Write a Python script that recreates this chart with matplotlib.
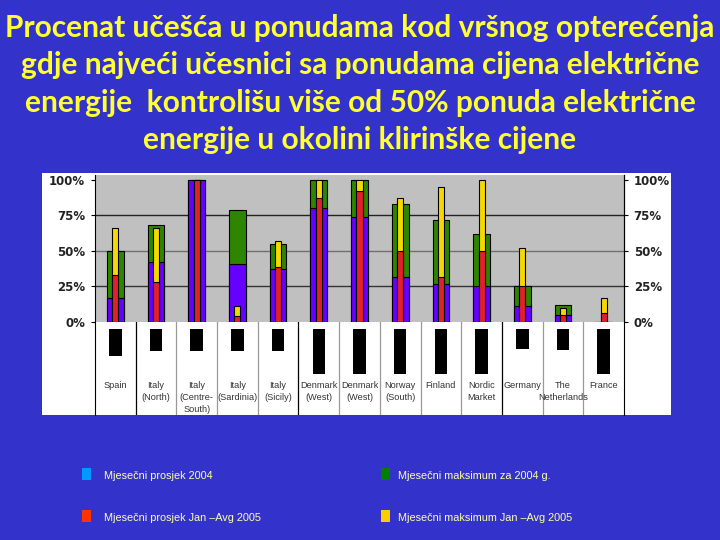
import numpy as np
import matplotlib
matplotlib.use('Agg')
import matplotlib.pyplot as plt
from matplotlib.patches import Rectangle

# Podaci (očitani sa slike), u %
categories = ['Spain', 'Italy\n(North)', 'Italy\n(Centre-\nSouth)', 'Italy\n(Sardinia)',
              'Italy\n(Sicily)', 'Denmark\n(West)', 'Denmark\n(West)', 'Norway\n(South)',
              'Finland', 'Nordic\nMarket', 'Germany', 'The\nNetherlands', 'France']
avg_2004 = [17, 42, 100, 41, 37, 80, 74, 32, 27, 25, 11, 5, 0]
max_2004 = [50, 68, 100, 79, 55, 100, 100, 83, 72, 62, 25, 12, 0]
avg_2005 = [33, 28, 100, 4, 39, 87, 92, 50, 32, 50, 25, 5, 6]
max_2005 = [66, 66, 100, 11, 57, 100, 100, 87, 95, 100, 52, 10, 17]
# crni stupci ispod grafa (relativna visina)
lower_vals = [0.61, 0.49, 0.49, 0.49, 0.49, 1.0, 1.0, 1.0, 1.0, 1.0, 0.44, 0.46, 1.0]
group_ends = [0, 4, 9]   # tamnije vertikalne linije nakon ovih kategorija

legend_labels = ['Mjesečni prosjek 2004', 'Mjesečni maksimum za 2004 g.',
                 'Mjesečni prosjek Jan –Avg 2005', 'Mjesečni maksimum Jan –Avg 2005']
legend_colors = ['#0099FF', '#008000', '#FF3300', '#FFCC00']

title_lines = ['Procenat učešća u ponudama kod vršnog opterećenja',
               'gdje najveći učesnici sa ponudama cijena električne',
               'energije  kontrolišu više od 50% ponuda električne',
               'energije u okolini klirinške cijene']

W, H = 720, 540
BG = '#3333CC'
fig = plt.figure(figsize=(7.2, 5.4), dpi=100, facecolor=BG)

def fx(px):
    return px / W

def fy(py):
    return 1 - py / H

for i, line in enumerate(title_lines):
    fig.text(0.5, fy(28 + 37.3 * i), line, ha='center', va='center', color='#FFFF33',
             fontsize=21.5, fontweight='bold', family='Lato')

# bijela podloga slike grafa
fig.patches.append(Rectangle((fx(42), fy(415)), fx(671) - fx(42), fy(173) - fy(415),
                             transform=fig.transFigure, facecolor='white',
                             edgecolor='none', zorder=-1))

x = np.arange(len(categories))
ax = fig.add_axes([fx(95), fy(322), fx(624) - fx(95), fy(175) - fy(322)])
ax.set_facecolor('#C0C0C0')
ax.set_xlim(-0.5, len(categories) - 0.5)
ax.set_ylim(0, 103.5)

for yv, c in [(25, '#333333'), (50, '#707070'), (75, '#222222')]:
    ax.axhline(yv, color=c, lw=1, zorder=1)

wide, narrow = 0.41, 0.15
ax.bar(x, max_2004, wide, color='#2E8500', edgecolor='black', lw=0.8, zorder=2)
ax.bar(x, avg_2004, wide, color='#6600FF', edgecolor='black', lw=0.8, zorder=3)
ax.bar(x, max_2005, narrow, color='#F5D800', edgecolor='black', lw=0.8, zorder=4)
ax.bar(x, avg_2005, narrow, color='#E0202A', edgecolor='black', lw=0.8, zorder=5)

ax.set_yticks([0, 25, 50, 75, 100])
ax.set_yticklabels(['0%', '25%', '50%', '75%', '100%'])
ax.tick_params(axis='y', labelsize=8.5, colors='black', length=3, pad=4)
for lab in ax.get_yticklabels():
    lab.set_fontweight('bold')
    lab.set_color('#222222')
ax.set_xticks([])
ax2y = ax.secondary_yaxis('right')
ax2y.set_yticks([0, 25, 50, 75, 100])
ax2y.set_yticklabels(['0%', '25%', '50%', '75%', '100%'])
ax2y.tick_params(labelsize=8.5, length=3, pad=4)
for lab in ax2y.get_yticklabels():
    lab.set_fontweight('bold')
    lab.set_color('#222222')
ax2y.spines['right'].set_color('black')
for s in ['top', 'bottom']:
    ax.spines[s].set_visible(False)
ax.spines['left'].set_color('black')
ax.spines['right'].set_color('black')

# donji dio s crnim stupcima i nazivima
lax = fig.add_axes([fx(95), fy(415), fx(624) - fx(95), fy(322) - fy(415)])
lax.set_facecolor('white')
lax.set_xlim(-0.5, len(categories) - 0.5)
lax.set_ylim(0, 1)
scale = 45 / 93
top = 1 - 7 / 93
lax.bar(x, [v * scale for v in lower_vals], 0.31, bottom=[top - v * scale for v in lower_vals],
        color='black', zorder=2)
for i in range(len(categories) - 1):
    c = '#000000' if i in group_ends else '#999999'
    lax.axvline(i + 0.5, color=c, lw=0.9, zorder=1)
for i, lab in enumerate(categories):
    # svaki red zasebno, da se okviri teksta ne preklapaju
    for j, part in enumerate(lab.split('\n')):
        lax.text(x[i], 1 - (64 + 11.5 * j) / 93, part, ha='center', va='center',
                 fontsize=6.6, family='Liberation Sans', color='#333333')
lax.set_xticks([])
lax.set_yticks([])
for s in ['top', 'bottom']:
    lax.spines[s].set_visible(False)
lax.spines['left'].set_color('black')
lax.spines['right'].set_color('black')

# legenda
pos = [(82, 468), (381, 468), (82, 510), (381, 510)]
for (px, py), lab, col in zip(pos, legend_labels, legend_colors):
    fig.patches.append(Rectangle((fx(px), fy(py + 12)), 9 / W, 12 / H,
                                 transform=fig.transFigure, facecolor=col, edgecolor='none'))
    fig.text(fx(px + 22 if px < 300 else px + 17), fy(py + 8), lab, ha='left', va='center',
             fontsize=7.8, family='Liberation Sans', color='#FFFFAA')

fig.savefig('out.png', dpi=100, facecolor=BG)
